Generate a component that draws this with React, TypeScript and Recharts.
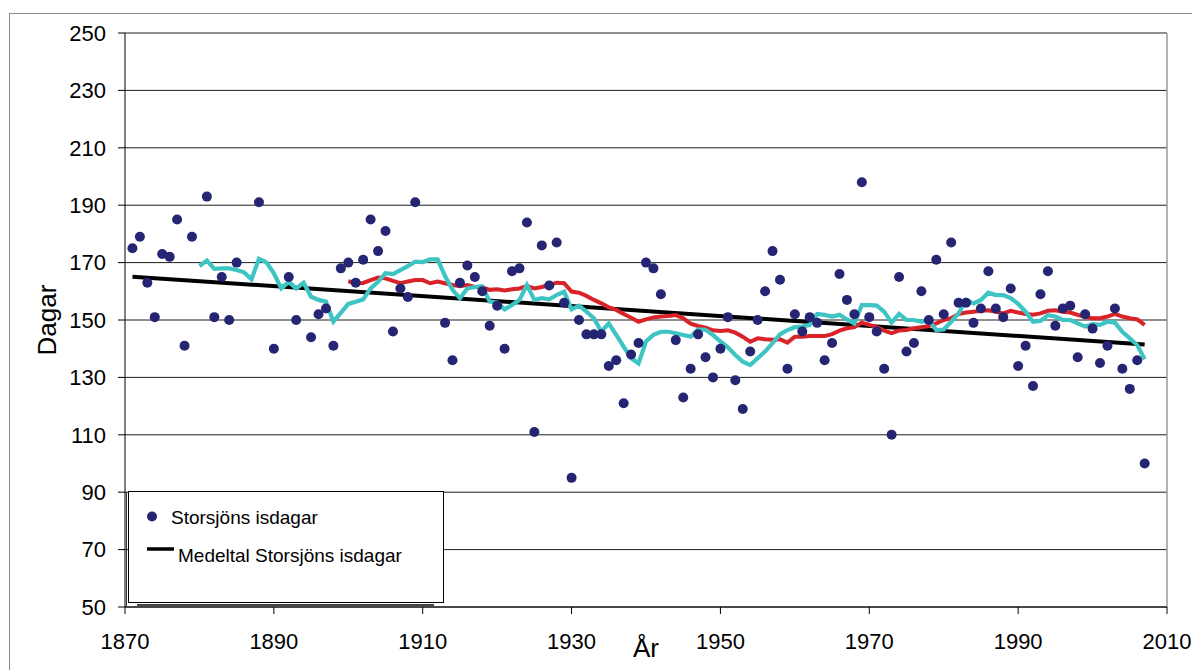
import {
  ComposedChart,
  Line,
  Scatter,
  XAxis,
  YAxis,
  CartesianGrid,
  ReferenceLine,
} from "recharts";

// Storsjöns isdagar (dagar per år), 1871–2007, null = saknas
const dayStartYear = 1871;
const dayCounts: (number | null)[] = [
  175, 179, 163, 151, 173, 172, 185, 141, 179, null,
  193, 151, 165, 150, 170, null, null, 191, null, 140,
  null, 165, 150, null, 144, 152, 154, 141, 168, 170,
  163, 171, 185, 174, 181, 146, 161, 158, 191, null,
  null, null, 149, 136, 163, 169, 165, 160, 148, 155,
  140, 167, 168, 184, 111, 176, 162, 177, 156, 95,
  150, 145, 145, 145, 134, 136, 121, 138, 142, 170,
  168, 159, null, 143, 123, 133, 145, 137, 130, 140,
  151, 129, 119, 139, 150, 160, 174, 164, 133, 152,
  146, 151, 149, 136, 142, 166, 157, 152, 198, 151,
  146, 133, 110, 165, 139, 142, 160, 150, 171, 152,
  177, 156, 156, 149, 154, 167, 154, 151, 161, 134,
  141, 127, 159, 167, 148, 154, 155, 137, 152, 147,
  135, 141, 154, 133, 126, 136, 100,
];

// turkos kurva (kort glidande medel), 1880–2007
const shortStartYear = 1880;
const shortAvg = [
  168.8, 170.7, 167.8, 168, 168, 167.4, 166.6, 164.2, 171.3, 170.1,
  166.3, 161, 163.3, 161, 163, 158.1, 157, 156.4, 149.4, 152.5,
  155.6, 156.4, 157.2, 161, 163.3, 166.3, 166, 167.4, 168.8, 170.3,
  170.2, 171.1, 171.1, 165.3, 160.5, 157.6, 161, 161.5, 161.8, 156.4,
  156.1, 153.7, 155.2, 157, 162.2, 157, 157.6, 157.2, 158.7, 159.9,
  153.7, 155, 152.9, 150.6, 145.9, 148.8, 144.8, 140.7, 136.7, 134.9,
  142.5, 144.8, 145.9, 145.9, 145.4, 144.8, 144.2, 146.7, 146.6, 144.8,
  142.5, 140.5, 137.8, 135.5, 134.3, 136.7, 139, 141.9, 145, 146.5,
  147.5, 147.7, 148.3, 152.1, 151.8, 151.2, 151.8, 150.2, 148.8, 155.2,
  155.2, 155, 152.9, 149.1, 152.1, 150, 150, 149.4, 150, 146.5,
  146.7, 149.4, 152.3, 157, 155.8, 157, 159.5, 158.7, 158.7, 157.6,
  155.6, 152.9, 149.4, 149.7, 151.7, 151.2, 150, 150, 148.8, 147.7,
  148.6, 148.3, 149.4, 149.1, 145.9, 143.6, 141.3, 136.3,
];

// röd kurva (långt glidande medel), 1900–2007
const longStartYear = 1900;
const longAvg = [
  163.5, 162.8, 162.9, 163.9, 164.8, 164.5, 163.6, 162.8, 163.4, 163.9,
  163.9, 162.8, 163.4, 162.8, 162.2, 161.8, 162.2, 161.5, 161.4, 160.5,
  160.7, 160.3, 160.7, 161, 161.8, 161, 161.5, 162.2, 163, 162.8,
  159.9, 159.5, 158.4, 157, 155.8, 154.4, 153.5, 152.1, 150.8, 149.4,
  150.2, 150.9, 151.2, 151.4, 151.7, 150.6, 148.7, 147.9, 147.3, 146.4,
  146.2, 146.4, 145.6, 144.2, 142.4, 143.6, 143.3, 143.1, 143.3, 142.1,
  144.2, 144.2, 144.4, 144.4, 144.4, 145.1, 146.3, 147.1, 147.5, 149.1,
  148.3, 147.5, 146.3, 145.4, 146.3, 146.5, 147.1, 147.5, 147.9, 148.8,
  150, 150.6, 152.1, 152.6, 152.9, 153.2, 153.4, 152.9, 152.3, 153.2,
  152.6, 152.1, 151.8, 152.3, 153.2, 153.4, 152.9, 152.6, 151.8, 151,
  150.6, 150.6, 151.2, 152.1, 151.2, 150.6, 150.2, 148.3,
];

// Medeltal (linjär trend) – ändpunkter
const trendYears = [1871, 2007];
const trendValues = [165.1, 141.5];

const yTicks = [50, 70, 90, 110, 130, 150, 170, 190, 210, 230, 250];
const xTicks = [1870, 1890, 1910, 1930, 1950, 1970, 1990, 2010];

const FONT = "'Liberation Sans', Arial, sans-serif";
const NAVY = "#252573";
const CYAN = "#3fc4c4";
const RED = "#d92329";

type Row = {
  year: number;
  days?: number | null;
  shortAvg?: number | null;
  longAvg?: number | null;
  trend?: number | null;
};

const rows: Row[] = dayCounts.map((d, i) => {
  const year = dayStartYear + i;
  const si = year - shortStartYear;
  const li = year - longStartYear;
  const ti = trendYears.indexOf(year);
  return {
    year,
    days: d,
    shortAvg: si >= 0 && si < shortAvg.length ? shortAvg[si] : null,
    longAvg: li >= 0 && li < longAvg.length ? longAvg[li] : null,
    trend: ti >= 0 ? trendValues[ti] : null,
  };
});

const dots = rows.filter((r) => r.days != null);

const Dot = (props: any) => {
  if (props.cx == null || props.cy == null) return <g />;
  return <circle cx={props.cx} cy={props.cy} r={5} fill={NAVY} />;
};

export default function App() {
  return (
    <div
      style={{
        position: "absolute",
        left: 0,
        top: 0,
        width: 1192,
        height: 670,
        overflow: "hidden",
        background: "#fff",
        fontFamily: FONT,
      }}
    >
      {/* ytterram */}
      <div
        style={{
          position: "absolute",
          left: 9,
          top: 13,
          width: 1200,
          height: 700,
          borderLeft: "1px solid #8a8a8a",
          borderTop: "1px solid #8a8a8a",
        }}
      />

      <div style={{ position: "absolute", left: 0, top: 0 }}>
        <ComposedChart
          width={1192}
          height={670}
          data={rows}
          margin={{ top: 33, right: 25, bottom: 23, left: 25 }}
        >
          <CartesianGrid vertical={false} stroke="#1e1e1e" strokeWidth={1} />
          <XAxis
            dataKey="year"
            type="number"
            domain={[1870, 2010]}
            ticks={xTicks}
            interval={0}
            height={40}
            tickSize={7}
            tickMargin={19}
            stroke="#000"
            tick={{ fontSize: 22, fill: "#000", fontFamily: FONT }}
            label={{
              content: (p: any) => (
                <text
                  x={p.viewBox.x + p.viewBox.width / 2}
                  y={p.viewBox.y + 50}
                  textAnchor="middle"
                  fontSize={26}
                  fontFamily={FONT}
                  fill="#000"
                >
                  År
                </text>
              ),
            }}
          />
          <YAxis
            type="number"
            domain={[50, 250]}
            ticks={yTicks}
            interval={0}
            width={100}
            tickSize={7}
            tickMargin={12}
            stroke="#000"
            tick={{ fontSize: 22, fill: "#000", fontFamily: FONT }}
            label={{
              content: (p: any) => {
                const x = p.viewBox.x + 22;
                const y = p.viewBox.y + p.viewBox.height / 2;
                return (
                  <text
                    x={x}
                    y={y}
                    transform={`rotate(-90, ${x}, ${y})`}
                    textAnchor="middle"
                    dominantBaseline="central"
                    fontSize={26}
                    fontFamily={FONT}
                    fill="#000"
                  >
                    Dagar
                  </text>
                );
              },
            }}
          />
          <ReferenceLine x={2010} stroke="#9a9a9a" strokeWidth={1.5} />

          <Scatter
            data={dots}
            dataKey="days"
            shape={<Dot />}
            isAnimationActive={false}
          />
          <Line
            dataKey="trend"
            type="linear"
            stroke="#000"
            strokeWidth={4}
            dot={false}
            connectNulls
            isAnimationActive={false}
          />
          <Line
            dataKey="longAvg"
            type="linear"
            stroke={RED}
            strokeWidth={4}
            dot={false}
            isAnimationActive={false}
          />
          <Line
            dataKey="shortAvg"
            type="linear"
            stroke={CYAN}
            strokeWidth={4.2}
            dot={false}
            isAnimationActive={false}
          />
        </ComposedChart>
      </div>

      {/* teckenförklaring */}
      <div
        style={{
          position: "absolute",
          left: 126,
          top: 492,
          width: 2,
          height: 114,
          borderLeft: "1px solid #333",
        }}
      />
      <div
        style={{
          position: "absolute",
          left: 137,
          top: 604,
          width: 297,
          height: 2,
          background: "#444",
        }}
      />
      <svg
        width={316}
        height={112}
        style={{ position: "absolute", left: 128, top: 491 }}
      >
        <rect x={0.5} y={0.5} width={315} height={111} fill="#fff" stroke="#000" />
        <circle cx={24} cy={25.5} r={5} fill={NAVY} />
        <text
          x={43}
          y={26}
          fontSize={19}
          fontFamily={FONT}
          dominantBaseline="central"
          fill="#000"
        >
          Storsjöns isdagar
        </text>
        <line x1={19} x2={46} y1={58} y2={58} stroke="#000" strokeWidth={3.5} />
        <text
          x={50}
          y={64}
          fontSize={19}
          fontFamily={FONT}
          dominantBaseline="central"
          fill="#000"
        >
          Medeltal Storsjöns isdagar
        </text>
      </svg>
    </div>
  );
}
